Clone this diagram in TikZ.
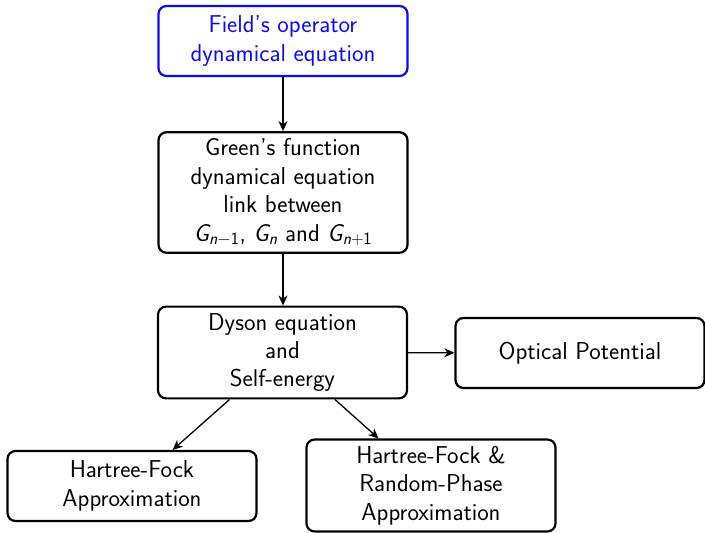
\documentclass[tikz,border=0pt]{standalone}
\usepackage{amsmath}
\usetikzlibrary{arrows.meta}
\definecolor{fieldblue}{RGB}{10,10,250}
\begin{document}
\begin{tikzpicture}[x=1pt,y=-1pt,
  box/.style={draw, line width=2.2pt, rounded corners=8pt, minimum width=249pt,
    minimum height=70pt, align=center, inner xsep=4pt, inner ysep=6.5pt,
    font=\sffamily\fontsize{24.4}{28.4}\selectfont},
  conn/.style={line width=1.3pt, -{Stealth[length=10pt,width=9pt,inset=3pt]}}]
\useasboundingbox (0,0) rectangle (705,533);
\node[box, draw=fieldblue, text=fieldblue] (field) at (283,41) {Field’s operator\\dynamical equation};
\node[box] (green) at (283,192.5) {Green’s function\\dynamical equation\\link between\\$\textsl{G}_{\textsl{n}-\mathsf{1}}$, $\textsl{G}_{\textsl{n}}$ and $\textsl{G}_{\textsl{n}+\mathsf{1}}$};
\node[box] (dyson) at (282.5,352.5) {Dyson equation\\and\\Self-energy};
\node[box] (optical) at (580,353) {Optical Potential};
\node[box] (hf) at (132,486) {Hartree-Fock\\Approximation};
\node[box] (hfrpa) at (431,485.5) {Hartree-Fock \&\\Random-Phase\\Approximation};
\draw[conn] (field) -- (green);
\draw[conn] (green) -- (green |- dyson.north);
\draw[conn] (dyson) -- (optical);
\draw[conn] (dyson) -- (hf);
\draw[conn] (dyson) -- (hfrpa);
\end{tikzpicture}
\end{document}
